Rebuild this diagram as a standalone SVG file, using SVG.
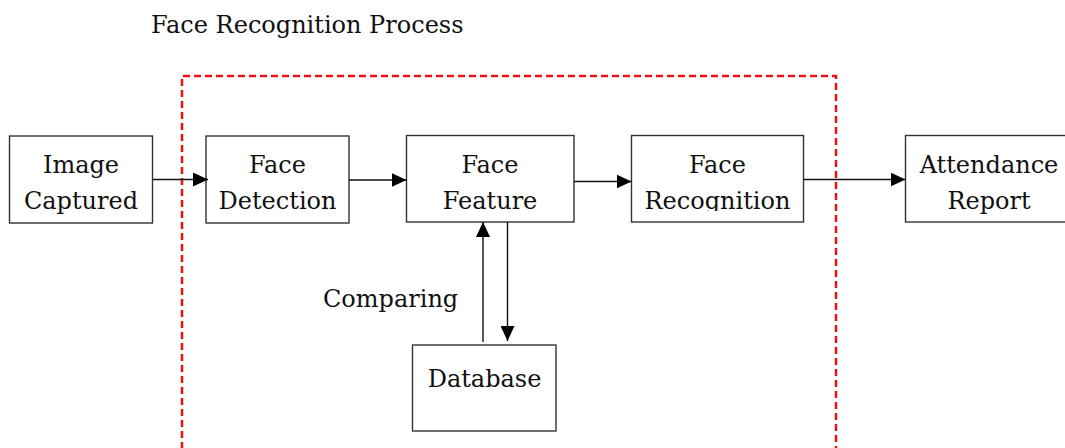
<svg xmlns="http://www.w3.org/2000/svg" width="1065" height="448" viewBox="0 0 1065 448">
  <style>
    .box { fill: #ffffff; stroke: #333333; stroke-width: 1.4; }
    .lbl { font-family: "DejaVu Serif", "Liberation Serif", serif; font-size: 24px; fill: #111111; text-anchor: middle; }
    .title { font-family: "DejaVu Serif", "Liberation Serif", serif; font-size: 24px; fill: #111111; }
    .conn { stroke: #111111; stroke-width: 1.4; fill: none; marker-end: url(#arrow); }
    .frame { fill: none; stroke: #ee1111; stroke-width: 2.5; stroke-dasharray: 7 4; }
  </style>
  <defs>
    <marker id="arrow" markerUnits="userSpaceOnUse" markerWidth="15" markerHeight="14" refX="15" refY="7" orient="auto">
      <path d="M0,0 L15,7 L0,14 Z" fill="#000000"/>
    </marker>
    <clipPath id="clipRec">
      <rect x="632" y="136" width="172" height="75"/>
    </clipPath>
  </defs>
  <rect width="1065" height="448" fill="#ffffff"/>

  <text class="title" x="151" y="33">Face Recognition Process</text>

  <path class="frame" d="M182,460 L182,76 L836,76 L836,460"/>

  <g id="image-captured">
    <rect class="box" x="9.5" y="136" width="143" height="87"/>
    <text class="lbl" x="81" y="173">Image</text>
    <text class="lbl" x="81" y="209">Captured</text>
  </g>
  <g id="face-detection">
    <rect class="box" x="206" y="136" width="143" height="87"/>
    <text class="lbl" x="277.5" y="173">Face</text>
    <text class="lbl" x="277.5" y="209">Detection</text>
  </g>
  <g id="face-feature">
    <rect class="box" x="406.5" y="135.5" width="167.5" height="86.5"/>
    <text class="lbl" x="490" y="173">Face</text>
    <text class="lbl" x="490" y="209">Feature</text>
  </g>
  <g id="face-recognition">
    <rect class="box" x="631.5" y="135.5" width="172" height="86.5"/>
    <text class="lbl" x="717.5" y="173">Face</text>
    <text class="lbl" x="717.5" y="209" clip-path="url(#clipRec)">Recognition</text>
  </g>
  <g id="attendance-report">
    <rect class="box" x="905.5" y="135.5" width="170" height="86.5"/>
    <text class="lbl" x="989" y="173">Attendance</text>
    <text class="lbl" x="989" y="209">Report</text>
  </g>
  <g id="database">
    <rect class="box" x="412.5" y="345" width="143.5" height="86"/>
    <text class="lbl" x="484.5" y="387">Database</text>
  </g>

  <g id="connectors">
    <line class="conn" x1="153" y1="179.5" x2="208" y2="179.5"/>
    <line class="conn" x1="349" y1="180" x2="406.5" y2="180"/>
    <line class="conn" x1="574" y1="181.5" x2="631.5" y2="181.5"/>
    <line class="conn" x1="803.5" y1="179.5" x2="905.5" y2="179.5"/>
    <line class="conn" x1="483" y1="342" x2="483" y2="222"/>
    <line class="conn" x1="507.5" y1="222" x2="507.5" y2="341"/>
    <text class="title" x="323" y="307">Comparing</text>
  </g>
</svg>
